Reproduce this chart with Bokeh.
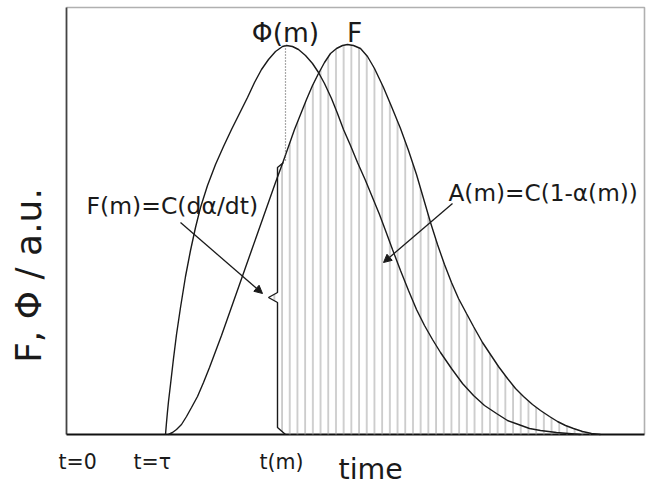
import numpy as np
from bokeh.plotting import figure
from bokeh.models import Range1d, Label, Arrow, NormalHead
from bokeh.embed import file_html
from bokeh.resources import INLINE

# Curves in arbitrary units (a.u.)
phi_t = [99, 100, 101, 102, 104, 107, 110, 114, 119, 124, 129, 134, 141, 149, 157,
         165, 173, 181, 188, 195, 202, 209, 216, 220, 226, 232, 239, 246, 252,
         258, 265, 271, 277, 284, 291, 299, 306, 313, 319, 326, 334, 342, 350, 358,
         366, 374, 385, 396, 407, 418, 430, 441, 452, 463, 474, 490, 514]
phi_v = [0, 12, 23, 33, 50, 76, 100, 127, 158, 184, 207, 227, 249, 270, 288,
         305, 321, 337, 352, 365, 375, 383, 388, 389, 388, 385, 379, 371, 362,
         351, 336, 321, 305, 289, 272, 254, 237, 220, 204, 185, 164, 144, 125, 109,
         95, 82, 66, 51, 39, 29, 21, 14, 10, 6, 4, 2, 0]

f_t = [102, 106, 110, 115, 120, 125, 131, 137, 143, 149, 155, 161, 167, 173, 179,
       185, 191, 197, 203, 209, 216, 222, 228, 234, 240, 246, 252, 258, 264, 270,
       276, 281, 287, 294, 301, 308, 317, 325, 334, 342, 350, 357, 364, 371, 378,
       385, 392, 400, 407, 416, 424, 432, 441, 449, 457, 466, 474,
       483, 491, 499, 507, 516, 525, 534]
f_v = [0, 2, 5, 10, 18, 27, 38, 52, 67, 83, 99, 116, 133, 150, 167,
       184, 201, 218, 235, 252, 271, 288, 305, 320, 335, 349, 361, 372, 381, 386,
       389, 390, 389, 386, 378, 366, 347, 328, 306, 284, 260, 236, 212, 190, 170,
       152, 136, 121, 108, 92, 80, 68, 56, 46, 38, 30, 24,
       18, 13, 9, 6, 3, 1, 0]

# boundary of the A(m) region at t(m)
edge_t = [219, 211, 211, 202, 211, 211, 217]
edge_v = [0, 7, 132, 137, 142, 267, 272]

phi_peak_t = 219
phi_peak_v = 389
dotted_end_v = 274

tick_labels = ["t=0", "t=\u03c4", "t(m)"]
tick_pos = [-8, 67, 193]

# plot box limits (a.u.)
T_MAX = 578
V_MAX = 427

FONT = "DejaVu Sans"
INK = "#1a1a1a"

p = figure(width=648, height=487, output_backend="svg", toolbar_location=None,
           x_range=Range1d(-66, 582), y_range=Range1d(-53, 434),
           min_border=0)
p.xaxis.visible = False
p.yaxis.visible = False
p.xgrid.visible = False
p.ygrid.visible = False
p.outline_line_color = None
p.background_fill_color = "white"
p.border_fill_color = "white"

# plot box: light top/right, dark left/bottom
p.line([0, T_MAX, T_MAX], [V_MAX, V_MAX, 0], line_color="#b0b0b0", line_width=1.6)
p.line([0, 0], [0, V_MAX], line_color="#444", line_width=1.8)
p.line([0, T_MAX], [0, 0], line_color="#111", line_width=2)

# hatched region A(m)
area_t = list(edge_t) + [t for t in f_t if t > edge_t[-1]] + [edge_t[0]]
area_v = list(edge_v) + [v for t, v in zip(f_t, f_v) if t > edge_t[-1]] + [edge_v[0]]
p.patch(area_t, area_v, fill_alpha=0, line_color=None,
        hatch_pattern="|", hatch_scale=7.7, hatch_color="#a0a0a0",
        hatch_weight=1.0)

p.line(edge_t, edge_v, line_color=INK, line_width=1.4)
p.line(phi_t, phi_v, line_color=INK, line_width=1.4)
p.line(f_t, f_v, line_color=INK, line_width=1.4)
p.line([phi_peak_t, phi_peak_t], [phi_peak_v, dotted_end_v], line_color="#555",
       line_width=1.2, line_dash="1 2")

# arrows
p.add_layout(Arrow(x_start=114, y_start=212, x_end=196, y_end=141,
                   line_color=INK, line_width=1.3,
                   end=NormalHead(size=8, fill_color=INK, line_color=INK)))
p.add_layout(Arrow(x_start=386, y_start=231, x_end=317, y_end=172,
                   line_color=INK, line_width=1.3,
                   end=NormalHead(size=8, fill_color=INK, line_color=INK)))

def lab(x, y, text, size, align="left", baseline="middle", angle=0):
    p.add_layout(Label(x=x, y=y, text=text, text_font=FONT,
                       text_font_size=f"{size}px", text_color=INK,
                       text_align=align, text_baseline=baseline, angle=angle))

lab(219, 402, "\u03a6(m)", 26.5, align="center")
lab(288, 402, "F", 26.5, align="center")
lab(20, 229, "F(m)=C(d\u03b1/dt)", 23.5)
lab(382, 242, "A(m)=C(1-\u03b1(m))", 23.2)
for pos, txt in zip(tick_pos, tick_labels):
    lab(pos, -27, txt, 20.5)
lab(272, -35, "time", 28.5)
lab(-38, 159, "F, \u03a6 / a.u.", 36, align="center", angle=np.pi / 2)

open("out.html", "w").write(file_html(p, INLINE))
